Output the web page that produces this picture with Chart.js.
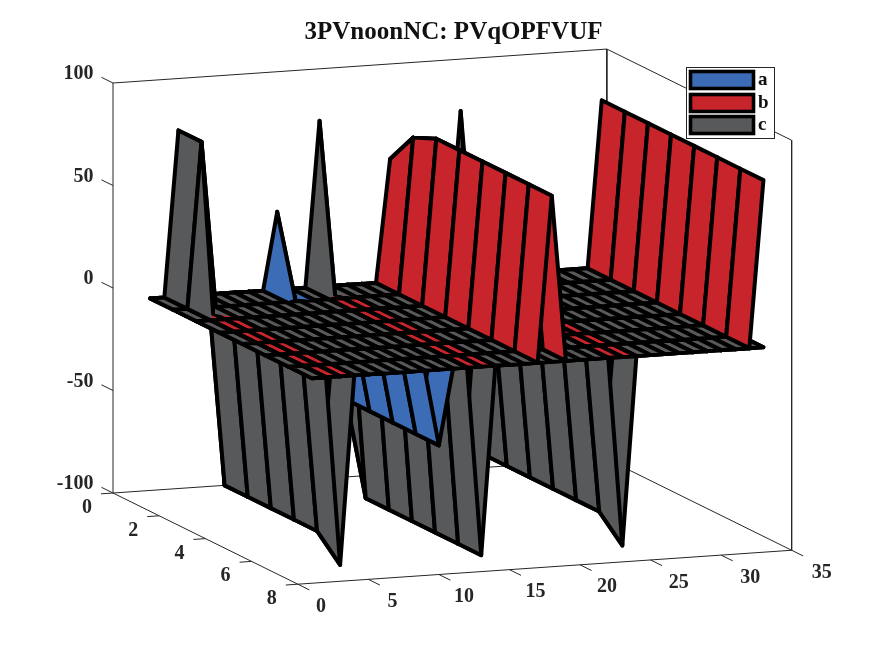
<!DOCTYPE html>
<html>
<head>
<meta charset="utf-8">
<title>3PVnoonNC: PVqOPFVUF</title>
<script src="https://cdn.jsdelivr.net/npm/chart.js@4/dist/chart.umd.min.js"></script>
<style>
html, body { margin: 0; padding: 0; background: #fff; }
canvas { display: block; }
</style>
</head>
<body>
<canvas id="myChart" width="875" height="656"></canvas>
<script>
var xValues = [1,2,3,4,5,6,7,8,9,10,11,12,13,14,15,16,17,18,19,20,21,22,23,24,25,26,27,28,29,30,31,32,33];
var yValues = [1,2,3,4,5,6,7,8];
var xTicks = [0,5,10,15,20,25,30,35];
var yTicks = [0,2,4,6,8];
var zTicks = [-100,-50,0,50,100];
var seriesNames = ['a','b','c'];
var seriesColors = ['#3b6cb5','#c8242b','#58595b'];

// one row per y value, one column per x value
var aValues = [
  [0,0,0,0,0,0,0,0,0,38,0,0,0,0,0,0,0,0,0,0,0,0,0,0,0,0,0,0,0,0,0,0,0],
  [0,0,0,0,0,0,0,0,0,-11,0,0,0,0,0,0,0,0,0,0,0,0,0,0,0,0,0,0,0,0,0,0,0],
  [0,0,0,0,0,0,0,0,0,-37,0,0,0,0,0,0,0,0,0,0,0,0,0,0,0,0,0,0,0,0,0,0,0],
  [0,0,0,0,0,0,0,0,0,-37,0,0,0,0,0,0,0,0,0,0,0,0,0,0,0,0,0,0,0,0,0,0,0],
  [0,0,0,0,0,0,0,0,0,-37,0,0,0,0,0,0,0,0,0,0,0,0,0,0,0,0,0,0,0,0,0,0,0],
  [0,0,0,0,0,0,0,0,0,-37,0,0,0,0,0,0,0,0,0,0,0,0,0,0,0,0,0,0,0,0,0,0,0],
  [0,0,0,0,0,0,0,0,0,-37,0,0,0,0,0,0,0,0,0,0,0,0,0,0,0,0,0,0,0,0,0,0,0],
  [0,0,0,0,0,0,0,0,0,-37,0,0,0,0,0,0,0,0,0,0,0,0,0,0,0,0,0,0,0,0,0,0,0]
];
var bValues = [
  [0,0,0,0,0,0,0,0,0,0,0,0,0,0,0,0,0,60,0,0,0,0,0,0,0,0,0,0,0,0,0,0,81.5],
  [0,0,0,0,0,0,0,0,0,0,0,0,0,0,0,0,0,76,0,0,0,0,0,0,0,0,0,0,0,0,0,0,81.5],
  [0,0,0,0,0,0,0,0,0,0,0,0,0,0,0,0,0,81,0,0,0,0,0,0,0,0,0,0,0,0,0,0,81.5],
  [0,0,0,0,0,0,0,0,0,0,0,0,0,0,0,0,0,81,0,0,0,0,0,0,0,0,0,0,0,0,0,0,81.5],
  [0,0,0,0,0,0,0,0,0,0,0,0,0,0,0,0,0,81,0,0,0,0,0,0,0,0,0,0,0,0,0,0,81.5],
  [0,0,0,0,0,0,0,0,0,0,0,0,0,0,0,0,0,81,0,0,0,0,0,0,0,0,0,0,0,0,0,0,81.5],
  [0,0,0,0,0,0,0,0,0,0,0,0,0,0,0,0,0,81,0,0,0,0,0,0,0,0,0,0,0,0,0,0,81.5],
  [0,0,0,0,0,0,0,0,0,0,0,0,0,0,0,0,0,81,0,0,0,0,0,0,0,0,0,0,0,0,0,0,81.5]
];
var cValues = [
  [0,0,81,0,0,0,0,0,0,0,0,0,81,0,0,0,0,0,0,0,0,0,81,0,0,0,0,0,0,0,0,0,0],
  [0,0,81,0,0,0,0,0,0,0,0,0,-40,0,0,0,0,0,0,0,0,0,-81,0,0,0,0,0,0,0,0,0,0],
  [0,0,-81,0,0,0,0,0,0,0,0,0,-92,0,0,0,0,0,0,0,0,0,-81,0,0,0,0,0,0,0,0,0,0],
  [0,0,-81,0,0,0,0,0,0,0,0,0,-92,0,0,0,0,0,0,0,0,0,-81,0,0,0,0,0,0,0,0,0,0],
  [0,0,-81,0,0,0,0,0,0,0,0,0,-92,0,0,0,0,0,0,0,0,0,-81,0,0,0,0,0,0,0,0,0,0],
  [0,0,-81,0,0,0,0,0,0,0,0,0,-92,0,0,0,0,0,0,0,0,0,-81,0,0,0,0,0,0,0,0,0,0],
  [0,0,-81,0,0,0,0,0,0,0,0,0,-92,0,0,0,0,0,0,0,0,0,-81,0,0,0,0,0,0,0,0,0,0],
  [0,0,-92,0,0,0,0,0,0,0,0,0,-92,0,0,0,0,0,0,0,0,0,-92,0,0,0,0,0,0,0,0,0,0]
];

var axisColor = '#262626';
var labelFont = 'bold 20px "Liberation Serif"';

// fixed view of the 3d box, the hidden scales below run in page pixels
function project(x, y, z) {
  return {
    x: 113 + 14.11 * x + 23.1 * y,
    y: 288 - 0.97 * x + 11.4 * y - 2.05 * z
  };
}

function clipQuad(pts, sign) {
  var out = [];
  for (var i = 0; i < pts.length; i++) {
    var p = pts[i];
    var q = pts[(i + 1) % pts.length];
    var pIn = p.z * sign >= 0;
    var qIn = q.z * sign >= 0;
    if (pIn) out.push({x: p.x, y: p.y, z: p.z, edge: true});
    if (pIn != qIn) {
      var t = p.z / (p.z - q.z);
      out.push({x: p.x + (q.x - p.x) * t, y: p.y + (q.y - p.y) * t, z: 0, edge: !pIn});
    }
  }
  return out.length < 3 ? [] : out;
}

function fillDataset(poly, color, label) {
  return {
    label: label,
    data: poly.map(function(p) { return project(p.x, p.y, p.z); }),
    showLine: true,
    fill: 'shape',
    backgroundColor: color,
    borderWidth: 0,
    pointRadius: 0
  };
}

function edgeDataset(poly, label) {
  var data = [];
  for (var i = 0; i < poly.length; i++) {
    if (!poly[i].edge) continue;
    var q = poly[(i + 1) % poly.length];
    data.push(project(poly[i].x, poly[i].y, poly[i].z));
    data.push(project(q.x, q.y, q.z));
    data.push({x: NaN, y: NaN});
  }
  return {
    label: label,
    data: data,
    showLine: true,
    fill: false,
    borderColor: '#000',
    borderWidth: 4,
    borderCapStyle: 'round',
    borderJoinStyle: 'round',
    pointRadius: 0
  };
}

function lineDataset(points) {
  return {
    data: points.map(function(p) { return project(p[0], p[1], p[2]); }),
    showLine: true,
    fill: false,
    borderColor: axisColor,
    borderWidth: 1,
    pointRadius: 0
  };
}

var matrices = [aValues, bValues, cValues];
var below = [], flat = [], above = [];

function addPiece(list, poly, s) {
  if (poly.length == 0) return;
  list.push(fillDataset(poly, seriesColors[s], seriesNames[s]));
  list.push(edgeDataset(poly, seriesNames[s]));
}

// back to front: large x first, then small y, series order a b c
for (var xi = xValues.length - 2; xi >= 0; xi--) {
  for (var yi = 0; yi < yValues.length - 1; yi++) {
    for (var s = 0; s < 3; s++) {
      var m = matrices[s];
      var quad = [
        {x: xValues[xi], y: yValues[yi], z: m[yi][xi]},
        {x: xValues[xi + 1], y: yValues[yi], z: m[yi][xi + 1]},
        {x: xValues[xi + 1], y: yValues[yi + 1], z: m[yi + 1][xi + 1]},
        {x: xValues[xi], y: yValues[yi + 1], z: m[yi + 1][xi]}
      ];
      var allZero = quad.every(function(p) { return p.z == 0; });
      if (allZero) {
        flat.push({s: s, poly: clipQuad(quad, 1)});
      } else {
        addPiece(below, clipQuad(quad, -1), s);
        addPiece(above, clipQuad(quad, 1), s);
      }
    }
  }
}

var flatSets = [];
for (var s2 = 0; s2 < 3; s2++) {
  flat.forEach(function(f) {
    if (f.s == s2) addPiece(flatSets, f.poly, s2);
  });
}

var xMax = xTicks[xTicks.length - 1];
var yMax = yTicks[yTicks.length - 1];
var zMin = zTicks[0];
var zMax = zTicks[zTicks.length - 1];
var axisSets = [
  lineDataset([[0,0,zMin],[0,0,zMax],[xMax,0,zMax],[xMax,0,zMin],[0,0,zMin]]),
  lineDataset([[0,0,zMin],[0,yMax,zMin],[xMax,yMax,zMin],[xMax,0,zMin]]),
  lineDataset([[xMax,0,zMax],[xMax,yMax,zMax],[xMax,yMax,zMin]])
];
xTicks.forEach(function(t) { axisSets.push(lineDataset([[t,yMax,zMin],[t,yMax + 0.5,zMin]])); });
yTicks.forEach(function(t) { axisSets.push(lineDataset([[0,t,zMin],[-0.85,t,zMin]])); });
zTicks.forEach(function(t) { axisSets.push(lineDataset([[0,0,t],[0,-0.5,t]])); });

// chart.js draws the first dataset on top, so the list runs front to back
var datasets = axisSets.concat(below, flatSets, above).reverse();

var axisLabelPlugin = {
  id: 'axisLabels',
  afterDraw: function(chart) {
    var ctx = chart.ctx;
    ctx.save();
    ctx.font = labelFont;
    ctx.fillStyle = axisColor;
    ctx.textBaseline = 'middle';
    ctx.textAlign = 'right';
    zTicks.forEach(function(t) {
      var p = project(0, 0, t);
      ctx.fillText(String(t), 93.5, p.y - 9);
    });
    ctx.textAlign = 'center';
    yTicks.forEach(function(t) {
      var p = project(-0.85, t, zMin);
      ctx.fillText(String(t), p.x - 14, p.y + 14);
    });
    xTicks.forEach(function(t) {
      var p = project(t, yMax + 1, zMin);
      ctx.fillText(String(t), p.x + t * 0.2, p.y + 11);
    });
    ctx.restore();
  }
};

var legendPlugin = {
  id: 'boxLegend',
  afterDraw: function(chart) {
    var ctx = chart.ctx;
    var top = [70, 93, 115];
    ctx.save();
    ctx.fillStyle = '#fff';
    ctx.fillRect(686, 67, 88, 71);
    ctx.strokeStyle = axisColor;
    ctx.lineWidth = 1;
    ctx.strokeRect(686.5, 67.5, 88, 71);
    ctx.font = 'bold 19px "Liberation Serif"';
    ctx.textBaseline = 'middle';
    ctx.textAlign = 'left';
    seriesNames.forEach(function(name, i) {
      ctx.fillStyle = seriesColors[i];
      ctx.fillRect(690.5, top[i] + 1.5, 63, 17);
      ctx.strokeStyle = '#000';
      ctx.lineWidth = 3.6;
      ctx.strokeRect(690.5, top[i] + 1.5, 63, 17);
      ctx.fillStyle = '#111';
      ctx.fillText(name, 758, top[i] + 10);
    });
    ctx.restore();
  }
};

var chart = new Chart(document.getElementById('myChart').getContext('2d'), {
  type: 'scatter',
  data: {datasets: datasets},
  plugins: [axisLabelPlugin, legendPlugin],
  options: {
    responsive: false,
    animation: false,
    events: [],
    layout: {padding: {left: 32}},
    plugins: {
      legend: {display: false},
      tooltip: {enabled: false},
      title: {
        display: true,
        text: '3PVnoonNC: PVqOPFVUF',
        color: '#111',
        font: {family: '"Liberation Serif"', size: 25, weight: 'bold', lineHeight: 1},
        padding: {top: 20, bottom: 0}
      }
    },
    scales: {
      x: {type: 'linear', display: false, min: 32, max: 875},
      y: {type: 'linear', display: false, min: 45, max: 656, reverse: true}
    }
  }
});
</script>
</body>
</html>
